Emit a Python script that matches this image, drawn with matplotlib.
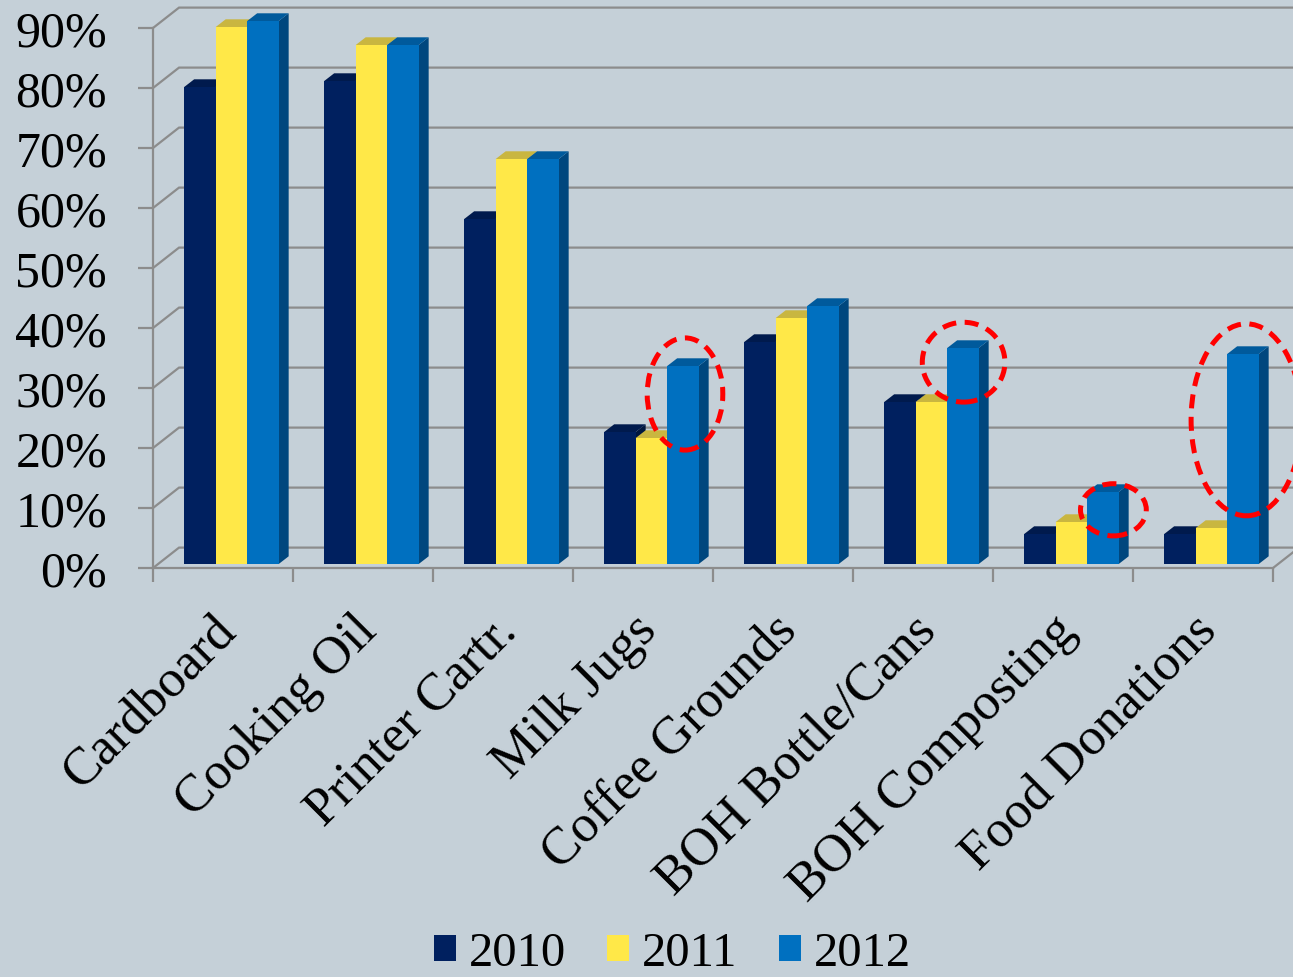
import matplotlib
matplotlib.use("Agg")
import matplotlib.pyplot as plt
import matplotlib.transforms as mtransforms
from matplotlib.patches import Polygon, Ellipse, Patch

# ---------- data ----------
categories = ["Cardboard", "Cooking Oil", "Printer Cartr.", "Milk Jugs",
              "Coffee Grounds", "BOH Bottle/Cans", "BOH Composting", "Food Donations"]
years = ["2010", "2011", "2012"]
v2010 = [79.5, 80.5, 57.5, 22, 37, 27, 5, 5]
v2011 = [89.5, 86.5, 67.5, 21, 41, 27, 7, 6]
v2012 = [90.5, 86.5, 67.5, 33, 43, 36, 12, 35]
yticks = [0, 10, 20, 30, 40, 50, 60, 70, 80, 90]

# highlighted spots (x-centre, y-centre, width, height in data units)
highlights = [(3.80, 29.0, 0.54, 18.7),
              (5.79, 34.3, 0.59, 13.3),
              (6.86, 9.7, 0.47, 8.7),
              (7.81, 24.7, 0.79, 32.0)]

# ---------- style ----------
BG = "#c5d0d8"
GRID = "#8c8c8c"
front = ["#00205f", "#ffe848", "#0070c0"]
side = ["#00173f", "#c8b43a", "#00477e"]
top = ["#001a4d", "#c9b640", "#005a9c"]
FONT = "Liberation Serif"

BDX, BDY = 0.186, 3.4      # back wall offset
DDX, DDY = 0.072, 1.3      # bar depth
BASE = 0.65                # bars sit slightly behind the front edge
BW, START = 0.225, 0.222

fig = plt.figure(figsize=(12.93, 9.78), dpi=100, facecolor=BG)
ax = fig.add_axes([153 / 1293, (978 - 569) / 978, 1140 / 1293, 569 / 978])
ax.patch.set_visible(False)
n = len(categories)
ax.set_xlim(0, n + 20 / 140)
ax.set_ylim(0, 569 / 6)

# back wall gridlines and floor
for v in yticks:
    ax.plot([0, BDX, n + 1], [v, v + BDY, v + BDY], color=GRID, lw=1.6, zorder=1,
            clip_on=False, solid_joinstyle="miter")
ax.plot([n, n + BDX], [0, BDY], color=GRID, lw=1.6, zorder=1, clip_on=False)

for s in ["top", "right"]:
    ax.spines[s].set_visible(False)
for s in ["left", "bottom"]:
    ax.spines[s].set_color(GRID)
    ax.spines[s].set_linewidth(1.6)
ax.spines["left"].set_bounds(0, yticks[-1])
ax.spines["bottom"].set_bounds(0, n)

ax.set_yticks(yticks)
ax.set_yticklabels([f"{v}%" for v in yticks], fontsize=36, fontfamily=FONT)
ax.tick_params(axis="y", length=11, width=1.6, color=GRID, pad=22)
ax.set_xticks(range(n + 1))
ax.set_xticklabels([])
ax.tick_params(axis="x", length=10, width=1.6, color=GRID)

# bars with faux 3D faces
series = [v2010, v2011, v2012]
for i in range(n):
    for k, vals in enumerate(series):
        x0 = i + START + k * BW
        x1 = x0 + BW
        y1 = vals[i] + BASE
        z = 3 + i * 3 + k
        ax.add_patch(Polygon([(x1, BASE), (x1, y1), (x1 + DDX, y1 + DDY), (x1 + DDX, BASE + DDY)],
                             closed=True, fc=side[k], ec="none", zorder=z))
        ax.add_patch(Polygon([(x0, y1), (x1, y1), (x1 + DDX, y1 + DDY), (x0 + DDX, y1 + DDY)],
                             closed=True, fc=top[k], ec="none", zorder=z))
        ax.add_patch(Polygon([(x0, BASE), (x1, BASE), (x1, y1), (x0, y1)],
                             closed=True, fc=front[k], ec="none", zorder=z + 0.5))

# red dashed circles
for cx, cy, w, h in highlights:
    ax.add_patch(Ellipse((cx, cy), w, h, fill=False, ec="#ff0000", lw=3.6,
                         linestyle=(0, (2.8, 1.7)), zorder=50, clip_on=False))

# category labels
off = mtransforms.offset_copy(ax.transData, fig=fig, x=-8, y=-27, units="points")
for i, name in enumerate(categories):
    ax.text(i + 0.5, 0, name, transform=off, rotation=45, ha="right", va="top",
            rotation_mode="anchor", fontsize=38, fontfamily=FONT)

# legend
handles = [Patch(fc=front[k], ec="none", label=years[k]) for k in range(3)]
fig.legend(handles=handles, loc="lower center", bbox_to_anchor=(0.52, -0.043), ncol=3,
           frameon=False, prop={"family": FONT, "size": 35}, handlelength=0.45,
           handleheight=0.45, handletextpad=0.27, columnspacing=0.85)

fig.savefig("out.png", dpi=100, facecolor=BG)
